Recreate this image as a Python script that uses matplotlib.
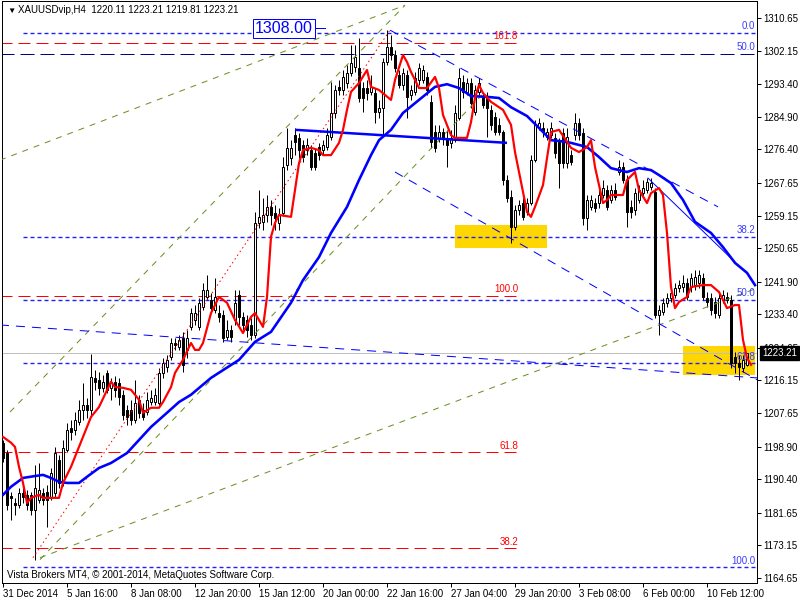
import matplotlib
matplotlib.use('Agg')
import matplotlib.pyplot as plt
from matplotlib.patches import Rectangle
from matplotlib.transforms import blended_transform_factory

plt.rcParams['font.family'] = ['Liberation Sans', 'DejaVu Sans']
plt.rcParams['lines.scale_dashes'] = False

# ---- H4 candles, XAUUSDvip, 31 Dec 2014 .. 11 Feb 2015 ----
opens = [
    1199.9, 1197.2, 1186.0, 1184.2, 1183.7, 1186.8, 1186.3, 1186.3, 1182.4, 1185.0,
    1186.8, 1187.1, 1185.8, 1186.8, 1195.4, 1189.4, 1198.0, 1203.8, 1203.2, 1205.3,
    1208.5, 1209.8, 1208.5, 1216.8, 1216.3, 1214.2, 1218.1, 1214.2, 1215.8, 1215.5,
    1212.4, 1208.5, 1208.5, 1205.9, 1211.1, 1208.5, 1207.9, 1210.5, 1210.5, 1210.3,
    1218.1, 1219.7, 1222.3, 1225.9, 1224.9, 1227.2, 1224.1, 1230.1, 1231.9, 1230.1,
    1235.3, 1237.9, 1237.1, 1234.5, 1233.7, 1233.2, 1227.5, 1229.3, 1231.9, 1238.4,
    1232.7, 1231.9, 1230.6, 1228.0, 1257.2, 1257.5, 1259.3, 1261.4, 1259.8, 1257.2,
    1259.8, 1272.3, 1274.1, 1280.1, 1279.4, 1277.5, 1276.2, 1276.2, 1275.5, 1277.0,
    1276.2, 1277.0, 1279.6, 1285.9, 1292.7, 1291.9, 1293.7, 1296.3, 1297.9, 1297.6,
    1292.4, 1292.4, 1291.4, 1291.1, 1286.1, 1287.2, 1299.2, 1303.1, 1301.0, 1295.8,
    1293.2, 1295.8, 1290.6, 1291.4, 1294.5, 1294.5, 1295.3, 1288.8, 1280.9, 1279.4,
    1280.9, 1279.4, 1278.1, 1278.8, 1284.6, 1294.0, 1291.4, 1293.7, 1286.1, 1291.4,
    1290.1, 1289.8, 1286.7, 1284.8, 1282.8, 1280.9, 1268.4, 1264.0, 1256.2, 1260.6,
    1262.4, 1260.1, 1262.4, 1273.6, 1282.2, 1282.0, 1279.6, 1280.1, 1279.4, 1278.3,
    1280.7, 1272.8, 1274.9, 1280.1, 1283.3, 1280.7, 1258.5, 1261.4, 1262.4, 1262.4,
    1264.5, 1265.8, 1263.2, 1265.8, 1270.5, 1271.8, 1268.4, 1261.4, 1260.6, 1263.2,
    1265.0, 1265.8, 1266.6, 1265.3, 1233.2, 1234.0, 1236.4, 1237.7, 1238.4, 1240.3,
    1240.5, 1241.6, 1240.5, 1241.0, 1241.6, 1242.9, 1237.7, 1237.7, 1236.6, 1233.2,
    1237.1, 1237.9, 1237.1, 1222.3, 1220.7, 1219.4, 1220.11]
highs = [
    1200.6, 1198.0, 1187.1, 1185.5, 1188.1, 1188.1, 1187.6, 1187.1, 1194.1, 1194.6,
    1188.1, 1188.9, 1193.3, 1198.8, 1196.7, 1200.6, 1205.1, 1205.9, 1207.9, 1211.1,
    1215.5, 1211.6, 1223.0, 1218.9, 1218.4, 1217.6, 1218.9, 1216.8, 1217.3, 1216.8,
    1213.7, 1209.8, 1211.1, 1216.3, 1212.4, 1210.3, 1213.2, 1213.7, 1214.2, 1219.4,
    1222.0, 1222.8, 1227.2, 1227.2, 1228.0, 1228.8, 1229.3, 1235.0, 1235.8, 1237.7,
    1241.6, 1243.7, 1239.0, 1242.9, 1235.8, 1234.5, 1231.9, 1230.6, 1239.7, 1239.7,
    1234.0, 1233.2, 1232.4, 1260.1, 1265.8, 1263.7, 1264.5, 1263.2, 1261.9, 1261.1,
    1274.4, 1282.0, 1278.8, 1282.0, 1280.7, 1278.8, 1279.4, 1277.5, 1276.8, 1278.1,
    1278.8, 1282.0, 1294.0, 1293.2, 1294.5, 1297.1, 1298.4, 1303.6, 1303.6, 1305.4,
    1294.0, 1294.5, 1295.8, 1292.4, 1289.3, 1300.2, 1307.5, 1306.2, 1302.3, 1297.1,
    1297.6, 1297.1, 1293.2, 1296.6, 1298.9, 1298.4, 1296.6, 1290.6, 1282.8, 1282.8,
    1282.0, 1281.5, 1281.5, 1288.0, 1297.6, 1295.8, 1295.0, 1295.0, 1293.2, 1295.0,
    1291.4, 1291.4, 1288.0, 1286.1, 1284.6, 1281.5, 1269.7, 1265.8, 1261.9, 1263.2,
    1263.7, 1263.7, 1274.9, 1284.1, 1284.6, 1283.5, 1282.0, 1283.5, 1280.7, 1279.4,
    1282.0, 1282.0, 1276.2, 1285.9, 1284.6, 1282.0, 1264.5, 1264.5, 1263.7, 1265.8,
    1268.4, 1267.1, 1267.1, 1267.6, 1273.6, 1273.1, 1269.7, 1263.2, 1266.3, 1267.1,
    1268.4, 1268.9, 1268.9, 1266.3, 1235.8, 1237.7, 1239.0, 1240.3, 1241.6, 1242.3,
    1243.7, 1242.9, 1244.2, 1245.0, 1245.0, 1244.2, 1239.2, 1239.0, 1237.9, 1239.0,
    1239.7, 1239.2, 1238.4, 1223.6, 1222.8, 1222.8, 1223.21]
lows = [
    1194.9, 1182.4, 1179.8, 1181.1, 1182.9, 1184.2, 1182.4, 1181.1, 1169.4, 1184.2,
    1183.7, 1178.0, 1185.0, 1185.8, 1188.1, 1188.6, 1197.5, 1200.6, 1201.9, 1204.5,
    1205.9, 1206.4, 1207.2, 1213.7, 1212.4, 1213.2, 1212.9, 1211.1, 1211.8, 1209.8,
    1205.9, 1204.5, 1204.5, 1205.1, 1206.4, 1205.9, 1207.2, 1209.8, 1209.8, 1209.8,
    1216.8, 1218.4, 1221.5, 1224.1, 1224.1, 1218.4, 1222.0, 1229.3, 1230.6, 1229.3,
    1234.5, 1237.1, 1234.0, 1233.7, 1231.4, 1226.2, 1226.7, 1226.2, 1230.6, 1230.6,
    1229.3, 1227.5, 1226.7, 1227.2, 1255.9, 1255.4, 1257.5, 1256.7, 1255.4, 1255.4,
    1259.0, 1271.0, 1272.3, 1274.9, 1274.1, 1273.1, 1274.9, 1271.0, 1271.0, 1273.6,
    1274.9, 1276.2, 1278.8, 1284.6, 1290.6, 1290.6, 1292.4, 1295.5, 1296.6, 1288.8,
    1286.1, 1289.3, 1290.6, 1283.3, 1284.6, 1280.1, 1298.4, 1299.7, 1296.6, 1292.4,
    1291.9, 1284.6, 1289.3, 1290.6, 1293.2, 1293.7, 1290.6, 1276.8, 1275.7, 1278.3,
    1277.5, 1271.8, 1276.8, 1278.3, 1284.1, 1289.8, 1290.6, 1287.2, 1285.4, 1290.6,
    1287.2, 1279.6, 1281.5, 1280.1, 1280.1, 1267.1, 1262.7, 1252.0, 1255.4, 1259.3,
    1258.0, 1259.3, 1261.9, 1273.1, 1281.5, 1279.6, 1278.8, 1279.4, 1274.1, 1266.3,
    1271.5, 1271.5, 1272.3, 1278.8, 1278.8, 1256.7, 1255.4, 1260.6, 1260.1, 1261.1,
    1263.7, 1260.6, 1262.4, 1263.2, 1269.7, 1267.6, 1256.2, 1258.5, 1259.3, 1262.4,
    1264.0, 1265.0, 1265.8, 1232.4, 1228.0, 1233.2, 1235.3, 1236.6, 1237.7, 1239.2,
    1239.2, 1237.1, 1239.2, 1239.7, 1240.3, 1237.1, 1235.3, 1233.2, 1232.4, 1232.4,
    1236.4, 1236.4, 1219.4, 1218.1, 1216.3, 1218.4, 1219.81]
closes = [
    1195.9, 1183.7, 1185.5, 1183.7, 1186.8, 1185.8, 1183.7, 1182.4, 1188.1, 1187.6,
    1185.0, 1185.0, 1192.0, 1197.2, 1189.4, 1198.6, 1203.2, 1202.7, 1205.9, 1208.5,
    1209.8, 1208.5, 1217.1, 1215.8, 1214.2, 1215.8, 1213.7, 1215.8, 1213.7, 1211.8,
    1207.2, 1206.6, 1205.9, 1210.3, 1207.7, 1206.6, 1211.1, 1211.6, 1212.4, 1218.1,
    1220.7, 1221.5, 1225.9, 1225.4, 1226.7, 1220.2, 1227.2, 1233.7, 1233.7, 1236.4,
    1239.7, 1239.7, 1235.0, 1237.9, 1232.7, 1227.2, 1229.3, 1227.5, 1236.4, 1232.7,
    1230.6, 1229.3, 1228.0, 1257.2, 1258.8, 1259.3, 1261.4, 1259.3, 1258.5, 1259.3,
    1271.8, 1276.8, 1276.8, 1278.3, 1276.2, 1274.4, 1277.5, 1271.8, 1271.8, 1274.9,
    1277.5, 1280.1, 1285.9, 1291.9, 1291.9, 1295.3, 1296.3, 1298.9, 1300.5, 1289.8,
    1289.8, 1291.1, 1292.7, 1286.1, 1287.2, 1299.2, 1303.1, 1301.0, 1297.6, 1293.2,
    1296.3, 1290.1, 1291.9, 1295.0, 1297.6, 1297.1, 1291.9, 1278.3, 1276.8, 1280.9,
    1279.4, 1277.5, 1279.4, 1285.9, 1295.0, 1291.4, 1293.7, 1288.5, 1291.9, 1293.7,
    1288.0, 1287.2, 1282.8, 1280.9, 1280.9, 1268.4, 1263.7, 1256.2, 1260.6, 1261.9,
    1258.8, 1262.4, 1273.6, 1282.8, 1283.3, 1280.9, 1280.9, 1282.0, 1275.5, 1272.8,
    1272.8, 1279.6, 1273.1, 1283.3, 1280.1, 1258.5, 1263.2, 1263.2, 1261.1, 1264.5,
    1266.3, 1261.4, 1265.8, 1264.0, 1271.8, 1268.4, 1260.1, 1260.1, 1265.0, 1265.8,
    1266.3, 1267.9, 1267.6, 1233.2, 1234.5, 1236.4, 1237.7, 1239.0, 1240.3, 1241.0,
    1241.6, 1237.9, 1242.9, 1243.1, 1243.7, 1237.9, 1236.6, 1234.5, 1233.7, 1237.7,
    1238.4, 1237.1, 1220.7, 1220.7, 1219.7, 1221.5, 1223.21]

# moving averages (bar index, value)
red_ma_bar = [0, 2, 3, 4, 5, 6, 7, 9, 10, 12, 14, 15, 17, 20, 22, 24, 27, 28, 30, 32,
              34, 35, 37, 39, 40, 42, 43, 45, 47, 48, 49, 50, 52, 54, 56, 58, 60, 62, 63, 65,
              66, 67, 68, 69, 72, 73, 74, 75, 77, 79, 80, 82, 84, 85, 86, 87, 89, 91, 92, 94,
              97, 98, 100, 101, 102, 104, 106, 108, 109, 110, 112, 113, 116, 117, 118, 119, 120, 122, 125, 127,
              128, 130, 131, 132, 133, 135, 136, 137, 139, 142, 144, 146, 147, 148, 150, 151, 152, 155, 156, 158,
              159, 161, 162, 164, 165, 166, 167, 168, 169, 171, 172, 175, 177, 179, 181, 183, 184, 185, 186, 187]
red_ma_val = [1201.4, 1199.9, 1198.8, 1193.6, 1189.4, 1184.2, 1185.5, 1186.3, 1185.5, 1185.5,
              1185.5, 1189.4, 1193.6, 1201.4, 1206.6, 1209.2, 1215.8, 1214.4, 1214.2, 1213.7,
              1211.1, 1207.7, 1209.0, 1209.0, 1210.5, 1214.4, 1218.1, 1221.5, 1225.9, 1224.1,
              1224.1, 1225.9, 1233.7, 1237.9, 1236.4, 1231.9, 1228.5, 1232.7, 1233.7, 1230.1,
              1237.9, 1253.6, 1257.2, 1259.3, 1258.8, 1265.8, 1272.8, 1276.2, 1276.8, 1276.2,
              1274.9, 1274.9, 1278.1, 1281.5, 1286.7, 1291.4, 1293.7, 1297.1, 1292.7, 1291.9,
              1289.3, 1294.5, 1301.0, 1299.2, 1296.6, 1292.4, 1292.4, 1295.3, 1292.4, 1285.4,
              1280.1, 1279.4, 1279.4, 1283.5, 1289.8, 1293.2, 1291.1, 1288.8, 1286.7, 1282.8,
              1275.7, 1265.3, 1260.1, 1258.8, 1261.4, 1267.1, 1274.1, 1280.9, 1281.5, 1276.8,
              1275.7, 1277.0, 1278.8, 1271.8, 1262.4, 1263.2, 1264.5, 1264.5, 1268.4, 1270.5,
              1265.8, 1262.4, 1265.0, 1266.3, 1264.5, 1254.6, 1240.5, 1235.0, 1236.6, 1237.9,
              1240.5, 1241.0, 1241.0, 1239.2, 1235.0, 1235.8, 1235.8, 1226.7, 1222.0, 1220.2]
blue_ma_bar = [0, 2, 5, 8, 10, 12, 14, 16, 19, 21, 24, 27, 29, 31, 34, 37, 41, 44, 47, 52,
               59, 63, 67, 72, 75, 79, 82, 86, 89, 92, 94, 97, 100, 104, 108, 111, 114, 117, 121, 124,
               127, 131, 134, 137, 139, 142, 146, 149, 152, 156, 159, 162, 164, 167, 170, 173, 177, 180, 183, 186,
               188]
blue_ma_val = [1186.3, 1188.4, 1190.7, 1191.2, 1191.5, 1190.7, 1189.7, 1189.4, 1189.4, 1191.0,
               1193.3, 1194.6, 1195.9, 1197.2, 1200.6, 1204.0, 1207.7, 1210.5, 1212.4, 1216.8,
               1221.5, 1226.2, 1228.8, 1236.4, 1242.3, 1248.3, 1254.6, 1261.4, 1268.4, 1274.9,
               1278.8, 1281.5, 1285.9, 1289.3, 1292.7, 1293.4, 1292.4, 1290.3, 1290.1, 1289.8,
               1287.4, 1285.1, 1282.0, 1278.8, 1278.6, 1278.1, 1277.0, 1274.4, 1271.5, 1270.5,
               1271.5, 1271.0, 1269.7, 1267.6, 1263.2, 1257.5, 1254.6, 1250.9, 1246.8, 1244.2,
               1241.0]

# fibonacci objects
red_fib_levels = ['161.8', '100.0', '61.8', '38.2']
red_fib_prices = [1304.2, 1238.2, 1197.4, 1172.3]
blue_fib_levels = ['0.0', '38.2', '50.0', '61.8', '100.0']
blue_fib_prices = [1306.8, 1253.6, 1237.2, 1220.7, 1167.5]
navy_level = '50.0'
navy_price = 1301.4

# drawn objects: (bar, price) end points
olive_lines = [((1.75, 1207.9), (100.5, 1314.0)),
               ((9.25, 1169.4), (119.75, 1290.6)),
               ((-0.75, 1273.6), (100.5, 1314.0)),
               ((9.25, 1169.9), (188.5, 1240.2))]
blue_dash_lines = [((96.75, 1307.5), (178.75, 1261.4)),
                   ((98.0, 1270.5), (188.5, 1216.3)),
                   ((-0.75, 1230.6), (188.5, 1216.8))]
blue_thin_line = ((161.25, 1268.9), (183.0, 1247.0))
red_dotted_line = ((7.5, 1169.9), (96.75, 1307.5))
blue_trend_line = ((73.0, 1281.5), (126.0, 1278.1))
yellow_boxes = [(113, 136, 1250.7, 1256.7), (170, 188, 1217.6, 1225.2)]
price_label = 1308.00
bid = closes[-1]

ytick_vals = [1310.65, 1302.15, 1293.40, 1284.90, 1276.40, 1267.65, 1259.15, 1250.65, 1241.90,
              1233.40, 1224.65, 1216.15, 1207.65, 1198.90, 1190.40, 1181.65, 1173.15, 1164.65]
xtick_bars = [0, 16, 32, 48, 64, 80, 96, 112, 128, 144, 160, 176]
xtick_labels = ['31 Dec 2014', '5 Jan 16:00', '8 Jan 08:00', '12 Jan 20:00', '15 Jan 12:00',
                '20 Jan 00:00', '22 Jan 16:00', '27 Jan 04:00', '29 Jan 20:00', '3 Feb 08:00',
                '6 Feb 00:00', '10 Feb 12:00']

PX = 0.72  # points per pixel at 100 dpi
RED = '#FF0000'
BLUE = '#0000FF'
NAVY = '#000080'
OLIVE = '#6B8E23'
LBLUE = '#3C3CFF'

fig = plt.figure(figsize=(8, 6), dpi=100)
ax = fig.add_axes([2/800, 17/600, 755/800, 582/600])
ax.set_xlim(-0.25, 188.5)
ax.set_ylim(1163.3, 1315.1)
for s in ax.spines.values():
    s.set_linewidth(1 * PX)
    s.set_color('black')

# background boxes and bid line
for b0, b1, p0, p1 in yellow_boxes:
    ax.add_patch(Rectangle((b0, p0), b1 - b0, p1 - p0, facecolor='#FFD700', edgecolor='none', zorder=1))
ax.axhline(bid, color='#C0C0C0', lw=1 * PX, zorder=1.5)

# fibo lines
for lev, p in zip(red_fib_levels, red_fib_prices):
    ax.plot([-0.75, 128.75], [p, p], color=RED, lw=1 * PX, dashes=(12 * PX, 6 * PX), zorder=2)
    ax.annotate(lev, (128.75, p), xytext=(0, 1), textcoords='offset points',
                ha='right', va='bottom', fontsize=7, color=RED, zorder=6)
for lev, p in zip(blue_fib_levels, blue_fib_prices):
    ax.plot([5, 188.5], [p, p], color='#2020FF', lw=1.0, dashes=(4 * PX, 3 * PX), zorder=2)
    ax.annotate(lev, (188.0, p), xytext=(0, 1), textcoords='offset points',
                ha='right', va='bottom', fontsize=7, color=LBLUE, zorder=6)
ax.plot([-0.75, 188.5], [navy_price, navy_price], color=NAVY, lw=1 * PX, dashes=(14 * PX, 6 * PX), zorder=2)
ax.annotate(navy_level, (188.0, navy_price), xytext=(0, 1), textcoords='offset points',
            ha='right', va='bottom', fontsize=7, color=LBLUE, zorder=6)

# candles
n = len(closes)
ax.vlines(range(n), [min(l, o, c) for l, o, c in zip(lows, opens, closes)],
          [max(h, o, c) for h, o, c in zip(highs, opens, closes)],
          color='black', lw=1 * PX, zorder=3)
for i in range(n):
    o, c = opens[i], closes[i]
    bull = c >= o
    ax.add_patch(Rectangle((i - 0.3, min(o, c)), 0.6, max(abs(c - o), 0.05),
                           facecolor='white' if bull else 'black', edgecolor='black',
                           lw=1 * PX, zorder=3.1))

# channel / trend lines
for (x0, y0), (x1, y1) in olive_lines:
    ax.plot([x0, x1], [y0, y1], color=OLIVE, lw=1 * PX, dashes=(6 * PX, 6 * PX), zorder=4)
for (x0, y0), (x1, y1) in blue_dash_lines:
    ax.plot([x0, x1], [y0, y1], color=BLUE, lw=1 * PX, dashes=(9 * PX, 7 * PX), zorder=4)
(x0, y0), (x1, y1) = blue_thin_line
ax.plot([x0, x1], [y0, y1], color=BLUE, lw=1 * PX, zorder=4)
(x0, y0), (x1, y1) = red_dotted_line
ax.plot([x0, x1], [y0, y1], color=RED, lw=1 * PX, dashes=(1.5 * PX, 3 * PX), zorder=4)
(x0, y0), (x1, y1) = blue_trend_line
ax.plot([x0, x1], [y0, y1], color=BLUE, lw=2.5 * PX, zorder=4.5, solid_capstyle='butt')

# moving averages
ax.plot(blue_ma_bar, blue_ma_val, color=BLUE, lw=2.6 * PX, zorder=5)
ax.plot(red_ma_bar, red_ma_val, color=RED, lw=2.2 * PX, zorder=5.1)

# price label object
ax.text(70.25, price_label, f'{price_label:.2f}', fontsize=11.5, color=BLUE, ha='center', va='center',
        bbox=dict(boxstyle='square,pad=0.12', fc='white', ec=BLUE, lw=1 * PX), zorder=7)
ax.plot([78.0, 80.5], [price_label, price_label], color=BLUE, lw=1 * PX, zorder=7)

# axes ticks
ax.yaxis.tick_right()
ax.set_yticks(ytick_vals)
ax.set_yticklabels([f'{v:.2f}' for v in ytick_vals])
ax.tick_params(axis='y', length=3, width=1 * PX, pad=1.5, labelsize=7)
ax.set_xticks(xtick_bars)
ax.set_xticklabels(xtick_labels, ha='left')
ax.tick_params(axis='x', length=3, width=1 * PX, pad=1, labelsize=7)

# bid label on the price scale
trans = blended_transform_factory(ax.transAxes, ax.transData)
ax.text(1.0 + 5 / 755, bid, f'{bid:.2f}', transform=trans, fontsize=7, color='white',
        ha='left', va='center', clip_on=False, zorder=10,
        bbox=dict(boxstyle='square,pad=0.2', fc='black', ec='black'))

# header and copyright
fig.text(7 / 800, 1 - 11 / 600, '\u25bc', fontsize=6, va='center', ha='left')
fig.text(18 / 800, 1 - 10 / 600,
         f'XAUUSDvip,H4  {opens[-1]:.2f} {highs[-1]:.2f} {lows[-1]:.2f} {closes[-1]:.2f}',
         fontsize=7, va='center', ha='left')
ax.text(5 / 755, 8 / 582, 'Vista Brokers MT4, \u00a9 2001-2014, MetaQuotes Software Corp.',
        transform=ax.transAxes, fontsize=7, va='center', ha='left', zorder=8)

fig.savefig('out.png', dpi=100)
